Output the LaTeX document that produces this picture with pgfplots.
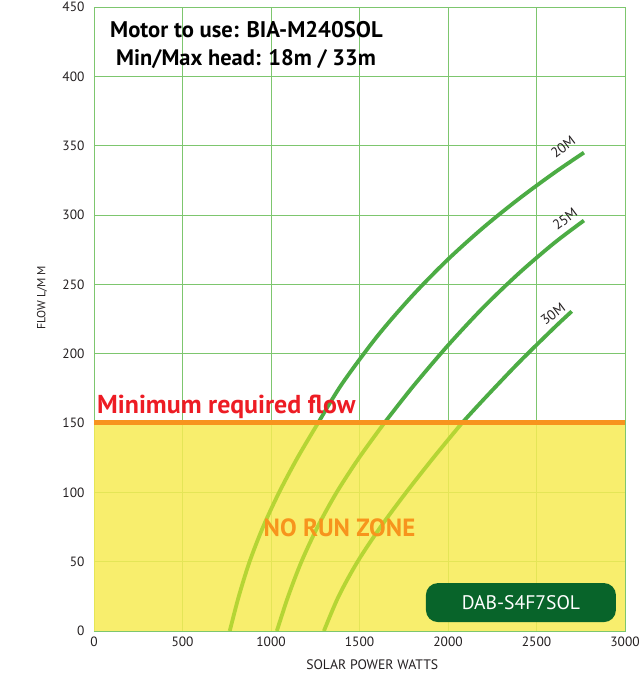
\documentclass[border=0pt]{standalone}
\usepackage{pgfplots}
\pgfplotsset{compat=1.18}
\usepackage{fontspec}
\setmainfont{PT Sans}
\definecolor{gridg}{RGB}{125,198,110}
\definecolor{yel}{RGB}{247,235,84}
\definecolor{orangec}{RGB}{247,148,29}
\definecolor{redc}{RGB}{237,28,36}
\definecolor{upg}{RGB}{76,172,68}
\definecolor{lowg}{RGB}{181,213,52}
\definecolor{dkgreen}{RGB}{8,100,42}
\definecolor{tickc}{RGB}{35,31,32}
\begin{document}
\begin{tikzpicture}
\useasboundingbox (-94bp,-45bp) rectangle (549bp,631bp);
\begin{axis}[
  at={(0,0)}, anchor=south west,
  scale only axis, width=531bp, height=624bp,
  xmin=0, xmax=3000, ymin=0, ymax=450,
  xtick={0,500,...,3000}, ytick={0,50,...,450},
  grid=major,
  major grid style={gridg, line width=0.9bp},
  axis line style={gridg, line width=0.9bp},
  major tick length=0,
  tick label style={font=\fontsize{13.5}{15}\selectfont, text=tickc},
  /pgf/number format/assume math mode=true,
  /pgf/number format/1000 sep={},
  xticklabel style={yshift=-2bp},
  yticklabel style={xshift=-6bp},
  xlabel={SOLAR POWER WATTS},
  ylabel={FLOW L/M M},
  xlabel style={at={(axis description cs:0.524,-0.054)}, anchor=center, font=\fontsize{13.8}{15}\selectfont, text=tickc},
  ylabel style={at={(axis description cs:-0.098,0.534)}, anchor=center, font=\fontsize{11.8}{13}\selectfont, text=tickc},
]
% no run zone
\addplot[draw=none, fill=yel, fill opacity=0.85] coordinates {(0,150) (3000,150)} \closedcycle;
% 20M
\addplot[lowg, line width=3.8bp, smooth] coordinates {(767,0) (818,25) (879,50) (955,75) (1046,100) (1150,125) (1266,150)};
\addplot[upg, line width=3.8bp, smooth] coordinates {(1266,150) (1400,178) (1600,212.5) (1800,242) (2000,268) (2200,291) (2400,311.6) (2600,330.4) (2768,345)};
% 25M
\addplot[lowg, line width=3.8bp, smooth] coordinates {(1033,0) (1097,25) (1172,50) (1263,75) (1371,100) (1498,125) (1640,150)};
\addplot[upg, line width=3.8bp, smooth] coordinates {(1640,150) (1800,176) (2000,206) (2200,233.4) (2400,257.9) (2600,279.8) (2768,296)};
% 30M
\addplot[lowg, line width=3.8bp, smooth] coordinates {(1299,0) (1382,25) (1489,50) (1619,75) (1764,100) (1918,125) (2079,150)};
\addplot[upg, line width=3.8bp, smooth] coordinates {(2079,150) (2200,166.8) (2400,193.6) (2600,218.7) (2699,230.5)};
% minimum flow line
\addplot[orangec, line width=5bp] coordinates {(0,150) (3000,150)};

\node[anchor=base, font=\fontsize{22.7}{26}\selectfont\bfseries, text=black] at (axis cs:861,428) {Motor to use: BIA-M240SOL};
\node[anchor=base, font=\fontsize{22.5}{26}\selectfont\bfseries, text=black] at (axis cs:859,407.5) {Min/Max head: 18m / 33m};
\node[anchor=base west, inner sep=0pt, font=\fontsize{26}{30}\selectfont\bfseries, text=redc] at (axis cs:17,157) {Minimum required flow};
\node[anchor=base, font=\fontsize{25}{28}\selectfont\bfseries, text=orangec] at (axis cs:1387,67.8) {NO RUN ZONE};
\node[fill=dkgreen, rounded corners=12bp, minimum width=190bp, minimum height=39bp, inner sep=0pt, text=white, font=\fontsize{19.7}{22}\selectfont] at (axis cs:2412,20.5) {DAB-S4F7SOL};
\node[rotate=37, inner sep=1pt, font=\fontsize{14}{15}\selectfont, text=tickc] at (axis cs:2650,349) {20M};
\node[rotate=37, inner sep=1pt, font=\fontsize{14}{15}\selectfont, text=tickc] at (axis cs:2661,297) {25M};
\node[rotate=37, inner sep=1pt, font=\fontsize{14}{15}\selectfont, text=tickc] at (axis cs:2593,228.5) {30M};
\end{axis}
\end{tikzpicture}
\end{document}
